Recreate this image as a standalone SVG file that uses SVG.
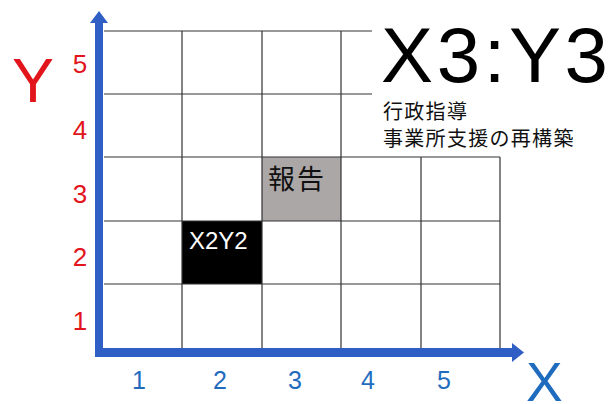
<svg xmlns="http://www.w3.org/2000/svg" width="616" height="404" viewBox="0 0 616 404">
<style>
.grid{stroke:#333;stroke-width:1.2;fill:none}
.axis{fill:#2f5fc5}
.ynum{font-family:"Liberation Sans",Arial,sans-serif;font-size:26px;fill:#e2141c;text-anchor:middle}
.xnum{font-family:"Liberation Sans",Arial,sans-serif;font-size:25px;fill:#1f6cbf;text-anchor:middle}
.jp{font-family:"Liberation Sans","Noto Sans CJK JP",sans-serif;fill:#111}
</style>
<rect width="616" height="404" fill="#fff"/>
<g id="cells">
<rect id="cell-report" x="262" y="157" width="79" height="64" fill="#aba7a6"/>
<rect id="cell-x2y2" x="182" y="221" width="80" height="63" fill="#000"/>
</g>
<g id="grid" class="grid">
<path d="M104 31H372M104 94H372M104 157H500M104 221H500M104 284H500"/>
<path d="M182 31V350M262 31V350M341 31V350M421 157V350M500 157V350"/>
</g>
<g id="labels">
<text x="268" y="189" class="jp" font-size="27" letter-spacing="2">報告</text>
<text x="189" y="249" font-family="Liberation Sans,Arial,sans-serif" font-size="24" fill="#fff">X2Y2</text>
<text x="381" y="82" font-family="Liberation Sans,Arial,sans-serif" font-size="78" fill="#000" textLength="227" lengthAdjust="spacing">X3:Y3</text>
<text x="383" y="119" class="jp" font-size="20" letter-spacing="1.3">行政指導</text>
<text x="383" y="146" class="jp" font-size="20" letter-spacing="1.3">事業所支援の再構築</text>
</g>
<g id="axes">
<rect class="axis" x="95" y="20" width="8" height="337"/>
<polygon class="axis" points="90,23 99,11 108,23"/>
<rect class="axis" x="95" y="348" width="420" height="9"/>
<polygon class="axis" points="512,343 524,352.5 512,362"/>
</g>
<g id="axis-labels">
<text x="12" y="102" font-family="Liberation Sans,Arial,sans-serif" font-size="63" fill="#e2141c">Y</text>
<text x="526" y="401" font-family="Liberation Sans,Arial,sans-serif" font-size="55" fill="#1f6cbf">X</text>
<text class="ynum" x="80" y="73">5</text>
<text class="ynum" x="80" y="139">4</text>
<text class="ynum" x="80" y="203">3</text>
<text class="ynum" x="80" y="266">2</text>
<text class="ynum" x="80" y="330">1</text>
<text class="xnum" x="139" y="389">1</text>
<text class="xnum" x="220" y="389">2</text>
<text class="xnum" x="295" y="389">3</text>
<text class="xnum" x="368" y="389">4</text>
<text class="xnum" x="444" y="389">5</text>
</g>
</svg>
